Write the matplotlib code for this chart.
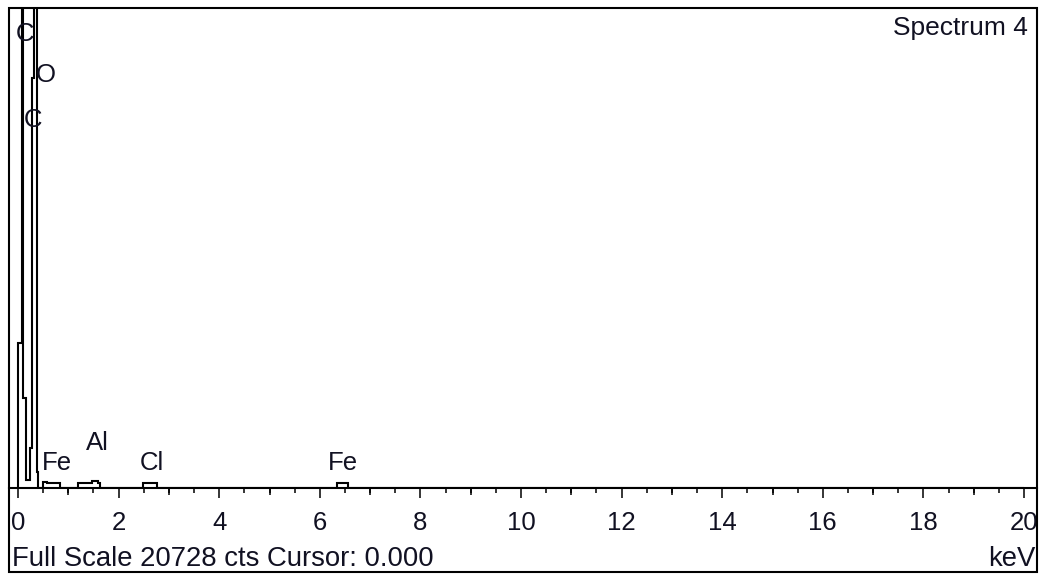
import numpy as np
import matplotlib
matplotlib.use('Agg')
import matplotlib.pyplot as plt
from matplotlib.patches import Rectangle

plt.rcParams['font.family'] = ['Liberation Sans', 'DejaVu Sans']

# EDS spectrum, channel edges in keV and counts per channel
edges_kev = [0.0, 0.07, 0.09, 0.16, 0.24, 0.28, 0.32, 0.38, 0.40, 0.50, 0.58,
             0.84, 1.19, 1.47, 1.59, 1.63, 2.49, 2.76, 6.34, 6.56, 20.0]
counts = [6260, 40000, 3890, 350, 1730, 17700, 40000, 690, 0, 260, 215,
          0, 195, 315, 195, 0, 195, 0, 215, 0]

full_scale = 20728

# element markers: (label, energy keV, counts position)
peak_labels = ['C', 'O', 'C', 'Fe', 'Al', 'Cl', 'Fe']
peak_kev = [0.14, 0.56, 0.30, 0.78, 1.57, 2.66, 6.46]
peak_cts = [19600, 17830, 15890, 1080, 1940, 1080, 1080]

W, H = 1044, 580
fig = plt.figure(figsize=(W / 100, H / 100), dpi=100)
fig.patch.set_facecolor('white')

# plot area spans the frame; 0 keV sits at px 18, 20 keV at px 1024
px_per_kev = (1024 - 18) / 20
ax = fig.add_axes([9 / W, 1 - 488 / H, (1037 - 9) / W, 480 / H])
ax.set_xlim((9 - 18) / px_per_kev, (1037 - 18) / px_per_kev)
ax.set_ylim(0, full_scale)

ax.stairs(counts, edges_kev, baseline=0, color='black', lw=1.5)

txt_color = '#111122'
for lab, e, c in zip(peak_labels, peak_kev, peak_cts):
    ax.text(e, c, lab, ha='center', va='center', fontsize=18.5, color=txt_color)

ax.text(1028 / W, 1 - 28 / H, 'Spectrum 4', transform=fig.transFigure,
        ha='right', va='center', fontsize=19, color=txt_color)

for s in ['top', 'left', 'right']:
    ax.spines[s].set_visible(False)
ax.spines['bottom'].set_linewidth(1.5)
ax.set_yticks([])

ax.set_xticks(np.arange(0, 21, 2))
ax.set_xticks(np.arange(0, 20.01, 0.5), minor=True)
ax.tick_params(axis='x', which='major', direction='out', length=7.2, width=1.1,
               labelsize=18.5, pad=9.5, labelcolor=txt_color)
ax.tick_params(axis='x', which='minor', direction='out', length=3.6, width=1.1)

# medium ticks on odd keV
sec = ax.secondary_xaxis('bottom')
sec.spines['bottom'].set_visible(False)
sec.set_xticks(np.arange(1, 20, 2))
sec.set_xticklabels([])
sec.tick_params(axis='x', direction='out', length=5.0, width=1.1)

fig.text(12 / W, 1 - 559 / H, 'Full Scale 20728 cts Cursor: 0.000',
         ha='left', va='center', fontsize=19.8, color=txt_color)
fig.text(1035 / W, 1 - 559 / H, 'keV', ha='right', va='center',
         fontsize=19.8, color=txt_color)

# outer frame
fig.patches.append(Rectangle((9 / W, 1 - 572 / H), (1037 - 9) / W, 564 / H,
                             transform=fig.transFigure, fill=False,
                             edgecolor='black', lw=1.5))

fig.savefig('out.png', dpi=100)
